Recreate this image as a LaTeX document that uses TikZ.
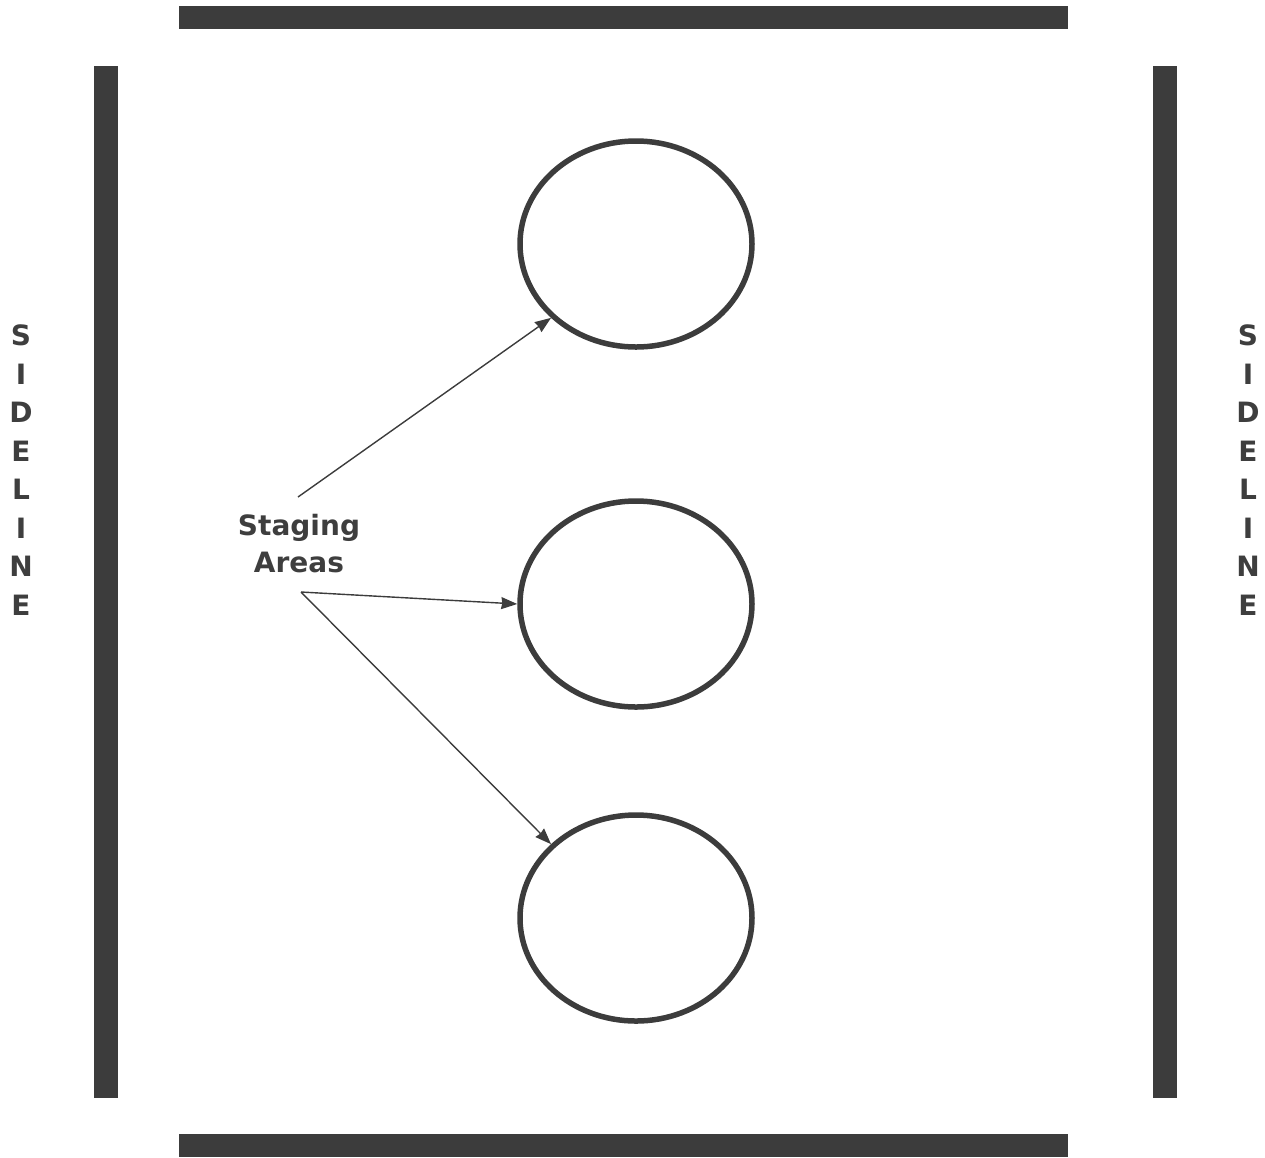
\documentclass[tikz,border=0pt]{standalone}
\usepackage{fontspec}
\setmainfont{DejaVu Sans}
\usepackage{tikz}
\usetikzlibrary{shapes.geometric, arrows.meta, positioning}
\definecolor{fieldgray}{RGB}{60,60,60}
\definecolor{labelgray}{RGB}{62,62,62}
\tikzset{
  %% ---- field lines ----
  fieldbar/.style = {fill=fieldgray, draw=none},
  %% ---- staging circles ----
  stagecircle/.style = {ellipse, draw=fieldgray, line width=5.5pt,
                   line join=round, line cap=round,
                   minimum width=232pt, minimum height=206pt, inner sep=0pt},
  %% ---- labels ----
  sideline/.style = {align=center, inner sep=0pt, text=labelgray,
                   font=\fontsize{28}{38.5}\selectfont\bfseries},
  staging/.style  = {align=center, inner sep=0pt, text=labelgray,
                   font=\fontsize{28}{37}\selectfont\bfseries},
  %% ---- arrows ----
  arrow/.style   = {-{Stealth[length=16pt, width=12pt, inset=1pt]},
                   line width=1.4pt, color=fieldgray},
}

\begin{document}
\begin{tikzpicture}[x=1pt, y=-1pt]
\useasboundingbox (0,0) rectangle (1265,1157);
% field boundary
\fill[fieldbar] (179,6) rectangle (1068,29);
\fill[fieldbar] (179,1134) rectangle (1068,1157);
\fill[fieldbar] (94,66) rectangle (118,1098);
\fill[fieldbar] (1153,66) rectangle (1177,1098);
\node[sideline] (leftside)  at (21,470)   {S\\I\\D\\E\\L\\I\\N\\E};
\node[sideline] (rightside) at (1248,470) {S\\I\\D\\E\\L\\I\\N\\E};
% staging areas
\node[stagecircle] (upper) at (636,244) {};
\node[stagecircle] (middle) at (636,604) {};
\node[stagecircle] (lower) at (636,918) {};
\node[staging] (label) at (299,544) {Staging\\Areas};
\coordinate (fromtop) at (298,497);
\coordinate (frombot) at (301,592);
\draw[arrow] (fromtop) -- (upper.221);
\draw[arrow] (frombot) -- (middle.west);
\draw[arrow] (frombot) -- (lower.139);
\end{tikzpicture}
\end{document}
